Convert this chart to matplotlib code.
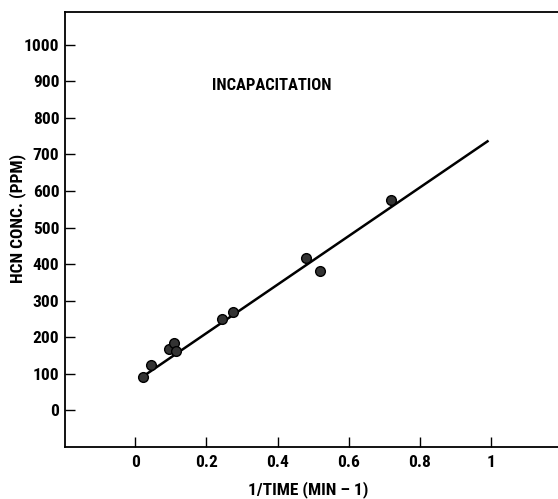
import matplotlib
matplotlib.use("Agg")
import matplotlib.pyplot as plt

plt.rcParams['font.family'] = ['Liberation Sans Narrow', 'DejaVu Sans Condensed',
                               'Roboto Condensed', 'Liberation Sans', 'DejaVu Sans']

# data
inv_time = [0.022, 0.045, 0.096, 0.11, 0.115, 0.245, 0.275, 0.48, 0.52, 0.719]
hcn_ppm = [90, 123, 167, 184, 162, 249, 268, 416, 381, 575]
fit_x = [0.02, 0.99]
fit_y = [91, 736]

xticks = [0, 0.2, 0.4, 0.6, 0.8, 1]
xtick_labels = ['0', '0.2', '0.4', '0.6', '0.8', '1']
yticks = [0, 100, 200, 300, 400, 500, 600, 700, 800, 900, 1000]

fig = plt.figure(figsize=(5.58, 4.99), dpi=100)
ax = fig.add_axes([0.1165, 0.104, 0.8835, 0.872])

ax.plot(fit_x, fit_y, color='black', lw=1.8, zorder=2)
ax.plot(inv_time, hcn_ppm, 'o', ms=7, mfc='#333333', mec='black', mew=1, zorder=3)

ax.set_xlim(-0.197, 1.188)
ax.set_ylim(-101, 1090)
ax.set_xticks(xticks)
ax.set_xticklabels(xtick_labels)
ax.set_yticks(yticks)

ax.tick_params(axis='both', direction='in', length=7, width=1, labelsize=12.5)
ax.tick_params(axis='y', pad=4)
ax.tick_params(axis='x', pad=6)
for lbl in ax.get_xticklabels() + ax.get_yticklabels():
    lbl.set_fontweight('bold')

ax.spines['right'].set_visible(False)
for s in ['left', 'top', 'bottom']:
    ax.spines[s].set_linewidth(1.3)

ax.text(0.385, 888, 'INCAPACITATION', ha='center', va='center',
        fontsize=12, fontweight='bold')

fig.text(0.032, 0.563, 'HCN CONC. (PPM)', rotation=90, ha='center', va='center',
         fontsize=12.5, fontweight='bold')
fig.text(0.553, 0.018, '1/TIME (MIN \u2013 1)', ha='center', va='center',
         fontsize=12.5, fontweight='bold')

fig.savefig('out.png', dpi=100)
